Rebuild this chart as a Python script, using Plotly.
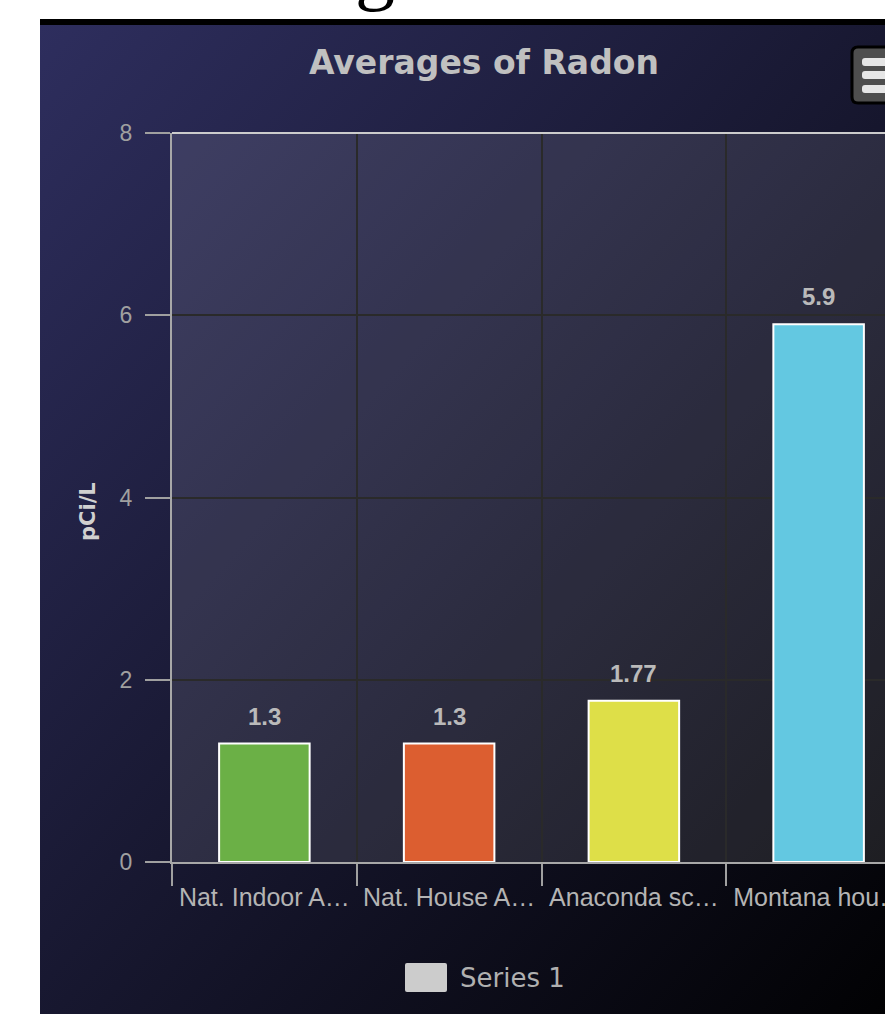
import base64
import plotly.graph_objects as go

# ---- data ----
categories = ["Nat. Indoor A…", "Nat. House A…", "Anaconda sc…", "Montana hou…"]
values = [1.3, 1.3, 1.77, 5.9]
bar_colors = ["#6bb046", "#dc5e30", "#dedf48", "#63c8e1"]
y_ticks = [0, 2, 4, 6, 8]
series_name = "Series 1"
chart_title = "Averages of Radon"
y_title = "pCi/L"

# ---- geometry helpers (figure pixels -> paper coords) ----
FW, FH = 885, 1014
ML, MR, MT, MB = 172, 0, 133, 152
PW, PH = FW - ML - MR, FH - MT - MB


def px(x):
    return (x - ML) / PW


def py(y):
    return (FH - MB - y) / PH


# background gradient as an inline SVG image
svg = (
    '<svg xmlns="http://www.w3.org/2000/svg" width="888" height="1005" '
    'preserveAspectRatio="none" viewBox="0 0 888 1005">'
    '<defs><linearGradient id="g" x1="0" y1="0" x2="1" y2="1">'
    '<stop offset="0" stop-color="rgb(46,46,94)"/>'
    '<stop offset="1" stop-color="rgb(0,0,0)"/>'
    '</linearGradient></defs>'
    '<rect x="0" y="0" width="888" height="1005" fill="url(#g)"/></svg>'
)
svg_uri = "data:image/svg+xml;base64," + base64.b64encode(svg.encode()).decode()

fig = go.Figure()
fig.add_trace(
    go.Bar(
        x=categories,
        y=values,
        width=0.49,
        marker=dict(color=bar_colors, line=dict(color="#ffffff", width=2)),
        name=series_name,
        hoverinfo="x+y",
    )
)

annotations = []
for c, v in zip(categories, values):
    annotations.append(
        dict(
            x=c, y=v, xref="x", yref="y", text=f"<b>{v:g}</b>", showarrow=False,
            yanchor="bottom", yshift=12,
            font=dict(family="Liberation Sans", size=24, color="#bababa"),
            xanchor="center",
        )
    )
# y axis title
annotations.append(
    dict(
        x=px(88), y=py(512), xref="paper", yref="paper", text=f"<b>{y_title}</b>",
        showarrow=False, textangle=-90, xanchor="center", yanchor="middle",
        font=dict(family="DejaVu Sans", size=21, color="#d0d0d0"),
    )
)
# chart title
annotations.append(
    dict(
        x=px(484), y=py(63), xref="paper", yref="paper", text=f"<b>{chart_title}</b>",
        showarrow=False, xanchor="center", yanchor="middle",
        font=dict(family="DejaVu Sans", size=33, color="#c0c0c0"),
    )
)
# legend text
annotations.append(
    dict(
        x=px(458), y=py(978), xref="paper", yref="paper", text=series_name,
        showarrow=False, xanchor="left", yanchor="middle",
        font=dict(family="DejaVu Sans", size=26, color="#b0b0b0"),
    )
)
# stray glyph from the page heading above the chart
annotations.append(
    dict(
        x=px(375), y=py(14), xref="paper", yref="paper", text="g",
        showarrow=False, xanchor="center", yanchor="bottom",
        font=dict(family="Liberation Serif", size=80, color="#000000"),
    )
)


def rounded_rect(x0, y0, x1, y1, r):
    # path in paper coords built from pixel corners
    return (
        f"M {px(x0 + r)},{py(y0)} L {px(x1 - r)},{py(y0)} "
        f"Q {px(x1)},{py(y0)} {px(x1)},{py(y0 + r)} L {px(x1)},{py(y1 - r)} "
        f"Q {px(x1)},{py(y1)} {px(x1 - r)},{py(y1)} L {px(x0 + r)},{py(y1)} "
        f"Q {px(x0)},{py(y1)} {px(x0)},{py(y1 - r)} L {px(x0)},{py(y0 + r)} "
        f"Q {px(x0)},{py(y0)} {px(x0 + r)},{py(y0)} Z"
    )


shapes = [
    # plot area tint
    dict(type="rect", xref="paper", yref="paper", x0=0, x1=1, y0=0, y1=1,
         fillcolor="rgba(255,255,255,0.1)", line=dict(width=0), layer="below"),
    # plot border top
    dict(type="line", xref="paper", yref="paper", x0=0, x1=1, y0=1, y1=1,
         line=dict(color="#cccccc", width=2), layer="above"),
    # chart black border on top
    dict(type="rect", xref="paper", yref="paper", x0=px(40), x1=px(930),
         y0=py(25), y1=py(19), fillcolor="#000000", line=dict(width=0), layer="above"),
    # legend swatch
    dict(type="path", xref="paper", yref="paper", path=rounded_rect(405, 963, 447, 992, 2),
         fillcolor="#cccccc", line=dict(width=0), layer="above"),
    # export menu button
    dict(type="path", xref="paper", yref="paper", path=rounded_rect(852, 47, 910, 103, 6),
         fillcolor="#4e4e4e", line=dict(color="#000000", width=3), layer="above"),
]
for y0, y1 in [(58, 66), (71, 79), (85, 93)]:
    shapes.append(
        dict(type="path", xref="paper", yref="paper", path=rounded_rect(862, y0, 905, y1, 3),
             fillcolor="#e6e6e6", line=dict(width=0), layer="above")
    )

fig.update_layout(
    width=FW, height=FH,
    margin=dict(l=ML, r=MR, t=MT, b=MB, pad=0, autoexpand=False),
    paper_bgcolor="#ffffff",
    plot_bgcolor="rgba(0,0,0,0)",
    showlegend=False,
    bargap=0.51,
    annotations=annotations,
    shapes=shapes,
    images=[
        dict(source=svg_uri, xref="paper", yref="paper", x=px(40), y=py(25),
             sizex=(930 - 40) / PW, sizey=(1030 - 25) / PH, xanchor="left",
             yanchor="top", sizing="stretch", layer="below")
    ],
    xaxis=dict(
        type="category", range=[-0.5, 3.5 - 26 / 184.75], tickson="boundaries",
        ticks="outside", ticklen=22, tickwidth=2, tickcolor="#a0a0a0",
        showline=True, linecolor="#a8a8a8", linewidth=2,
        showgrid=True, gridcolor="#2a2a2a", gridwidth=1.5, zeroline=False,
        tickfont=dict(family="Liberation Sans", size=25, color="#b4b4b4"),
        tickangle=0, ticklabelstandoff=12, automargin=False, fixedrange=True,
    ),
    yaxis=dict(
        range=[0, 8], tickvals=y_ticks, ticks="outside", ticklen=25, tickwidth=2,
        tickcolor="#a0a0a0", showline=True, linecolor="#a8a8a8", linewidth=2,
        showgrid=True, gridcolor="#2a2a2a", gridwidth=1.5, zeroline=False,
        tickfont=dict(family="Liberation Sans", size=23, color="#a0a0a0"),
        ticklabelstandoff=8, automargin=False, fixedrange=True,
    ),
)

fig.write_html("out.html")
